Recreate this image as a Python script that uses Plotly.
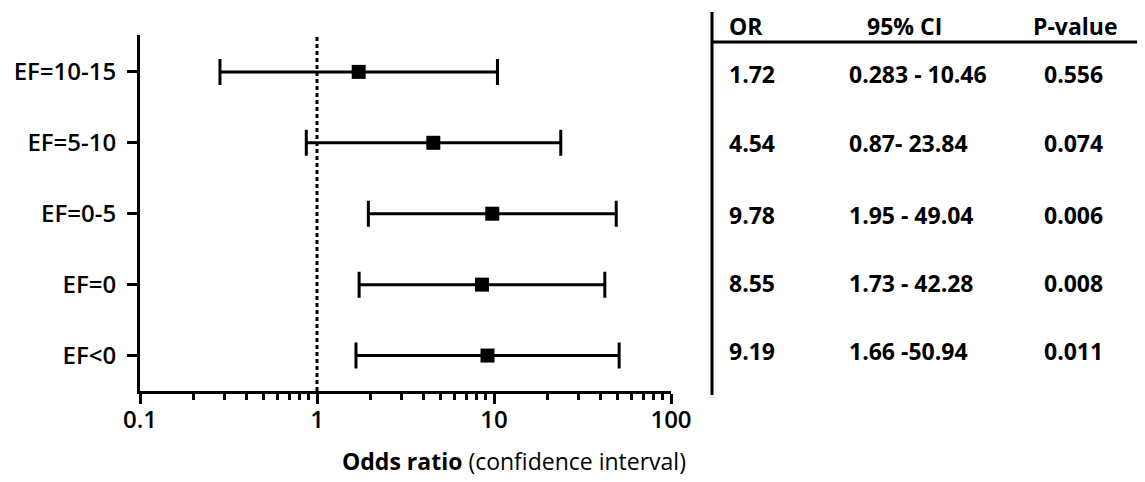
import plotly.graph_objects as go

# The page body has an 8px margin, so the figure is drawn 8px in from the
# window corner; reference pixel positions are shifted by this amount.
OFF = 8
W, H = 1145 - OFF, 482 - OFF

categories = ["EF=10-15", "EF=5-10", "EF=0-5", "EF=0", "EF<0"]
odds_ratio = [1.72, 4.54, 9.78, 8.55, 9.19]
ci_low = [0.283, 0.87, 1.95, 1.73, 1.66]
ci_high = [10.46, 23.84, 49.04, 42.28, 50.94]
or_text = ["1.72", "4.54", "9.78", "8.55", "9.19"]
ci_text = ["0.283 - 10.46", "0.87- 23.84", "1.95 - 49.04", "1.73 - 42.28", "1.66 -50.94"]
p_text = ["0.556", "0.074", "0.006", "0.008", "0.011"]
x_ticks = [0.1, 1, 10, 100]
x_ticktext = ["0.1", "1", "10", "100"]
minor_ticks = [0.2, 0.3, 0.4, 0.5, 0.6, 0.7, 0.8, 0.9,
               2, 3, 4, 5, 6, 7, 8, 9,
               20, 30, 40, 50, 60, 70, 80, 90]

FONT = "Open Sans"

# plot area in reference pixels
PL, PR, PT, PB = 140, 671, 35, 391

def tx(x):
    return (x - PL) / (PR - PL)

def ty(y):
    return (PB - y) / (PB - PT)

fig = go.Figure()
fig.add_trace(go.Scatter(
    x=odds_ratio, y=categories, mode="markers",
    marker=dict(symbol="square", size=14, color="black"),
    error_x=dict(type="data", symmetric=False,
                 array=[h - o for h, o in zip(ci_high, odds_ratio)],
                 arrayminus=[o - l for o, l in zip(odds_ratio, ci_low)],
                 thickness=3, width=13, color="black"),
    showlegend=False, cliponaxis=False,
))

fig.update_layout(
    width=W, height=H,
    margin=dict(l=PL - OFF, r=W - (PR - OFF), t=PT - OFF, b=H - (PB - OFF),
                autoexpand=False),
    paper_bgcolor="white", plot_bgcolor="white",
    font=dict(family=FONT, color="black"),
    xaxis=dict(
        type="log", range=[-1, 2], automargin=False,
        tickvals=x_ticks, ticktext=x_ticktext,
        ticks="outside", ticklen=10, tickwidth=3, tickcolor="black",
        showline=True, linewidth=3, linecolor="black",
        showgrid=False, zeroline=False, ticklabelstandoff=-5,
        tickfont=dict(size=24, family=FONT, weight=600),
        minor=dict(tickvals=minor_ticks, ticks="outside", ticklen=6,
                   tickwidth=3, tickcolor="black", showgrid=False),
    ),
    yaxis=dict(
        type="category", categoryorder="array",
        categoryarray=list(reversed(categories)),
        range=[-0.5, 4.52], automargin=False,
        ticks="outside", ticklen=10, tickwidth=3, tickcolor="black",
        showline=True, linewidth=3, linecolor="black",
        showgrid=False, zeroline=False, ticklabelstandoff=6,
        tickfont=dict(size=24, family=FONT, weight=600),
    ),
)

# reference line at OR = 1
fig.add_shape(type="line", xref="x", yref="paper", x0=1, x1=1,
              y0=0, y1=1,
              line=dict(color="black", width=3, dash="4px,3px"))

# axis title
fig.add_annotation(xref="paper", yref="paper", x=tx(514), y=ty(461),
                   text="<b>Odds ratio</b> (confidence interval)",
                   showarrow=False, xanchor="center", yanchor="middle",
                   font=dict(size=23, family=FONT))

# table lines
fig.add_shape(type="line", xref="paper", yref="paper",
              x0=tx(712), x1=tx(1145), y0=ty(42), y1=ty(42),
              line=dict(color="black", width=3))
fig.add_shape(type="line", xref="paper", yref="paper",
              x0=tx(712), x1=tx(712), y0=ty(12), y1=ty(395),
              line=dict(color="black", width=3))

tfont = dict(size=23, family=FONT, weight=700)
fig.add_annotation(xref="paper", yref="paper", x=tx(727), y=ty(26), text="OR",
                   showarrow=False, xanchor="left", yanchor="middle", font=tfont)
fig.add_annotation(xref="paper", yref="paper", x=tx(904), y=ty(26), text="95% CI",
                   showarrow=False, xanchor="center", yanchor="middle", font=tfont)
fig.add_annotation(xref="paper", yref="paper", x=tx(1075), y=ty(26), text="P-value",
                   showarrow=False, xanchor="center", yanchor="middle", font=tfont)

row_y = [74, 143, 215, 283, 351]
for i in range(len(categories)):
    fig.add_annotation(xref="paper", yref="paper", x=tx(727), y=ty(row_y[i]),
                       text=or_text[i], showarrow=False, xanchor="left",
                       yanchor="middle", font=tfont)
    fig.add_annotation(xref="paper", yref="paper", x=tx(847), y=ty(row_y[i]),
                       text=ci_text[i], showarrow=False, xanchor="left",
                       yanchor="middle", font=tfont)
    fig.add_annotation(xref="paper", yref="paper", x=tx(1042), y=ty(row_y[i]),
                       text=p_text[i], showarrow=False, xanchor="left",
                       yanchor="middle", font=tfont)

fig.write_html("out.html")
